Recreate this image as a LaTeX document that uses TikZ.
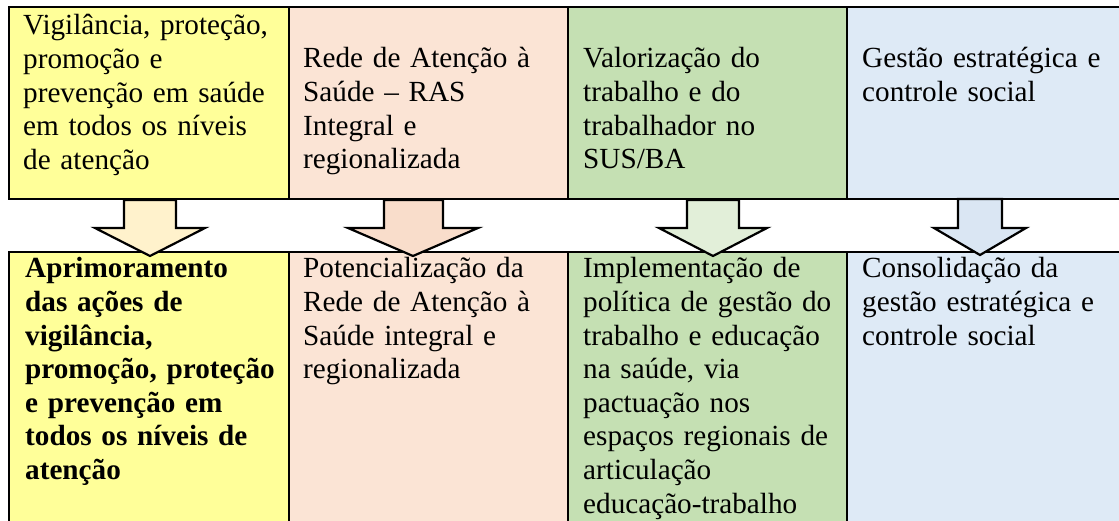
\documentclass[tikz,border=0pt]{standalone}
\usepackage{fontspec}
\setmainfont{Liberation Serif}
\definecolor{cyel}{HTML}{FFFF99}
\definecolor{cpink}{HTML}{FBE4D5}
\definecolor{cgreen}{HTML}{C5E0B3}
\definecolor{cblue}{HTML}{DEEAF6}
\definecolor{ayel}{HTML}{FFF2CC}
\definecolor{apink}{HTML}{F9DDCB}
\definecolor{agreen}{HTML}{E2EFD9}
\definecolor{ablue}{HTML}{DAE6F3}
\begin{document}
\begin{tikzpicture}[x=1pt,y=-1pt,
  cellline/.style={line width=2.4pt},
  celltext/.style={anchor=base west, inner sep=0pt, text width=300pt, align=left,
    font=\fontsize{29.2}{33.6}\selectfont},
  blockarrow/.style={draw=black, line width=2.2pt, line join=miter}]
\useasboundingbox (0,0) rectangle (1119,521);
% top row cells
\fill[cyel]   (9,7)   rectangle (289,199);
\fill[cpink]  (289,7) rectangle (568,199);
\fill[cgreen] (568,7) rectangle (847,199);
\fill[cblue]  (847,7) rectangle (1125,199);
\draw[cellline] (1125,7) -- (9,7) -- (9,199) -- (1125,199);
\draw[cellline] (289,7) -- (289,199) (568,7) -- (568,199) (847,7) -- (847,199);
% bottom row cells
\fill[cyel]   (9,252)   rectangle (289,530);
\fill[cpink]  (289,252) rectangle (568,530);
\fill[cgreen] (568,252) rectangle (847,530);
\fill[cblue]  (847,252) rectangle (1125,530);
\draw[cellline] (1125,252) -- (9,252) -- (9,530);
\draw[cellline] (289,252) -- (289,530) (568,252) -- (568,530) (847,252) -- (847,530);
% top texts
\node[celltext] (t1) at (23,35) {Vigilância, proteção,\\promoção e\\prevenção em saúde\\em todos os níveis\\de atenção};
\node[celltext] (t2) at (303,68) {Rede de Atenção à\\Saúde – RAS\\Integral e\\regionalizada};
\node[celltext] (t3) at (583,68) {Valorização do\\trabalho e do\\trabalhador no\\SUS/BA};
\node[celltext] (t4) at (862,68) {Gestão estratégica e\\controle social};
% bottom texts
\node[celltext, font=\fontsize{29.2}{33.6}\selectfont\bfseries] (b1) at (25,278) {Aprimoramento\\das ações de\\vigilância,\\promoção, proteção\\e prevenção em\\todos os níveis de\\atenção};
\node[celltext] (b2) at (303,278) {Potencialização da\\Rede de Atenção à\\Saúde integral e\\regionalizada};
\node[celltext] (b3) at (583,278) {Implementação de\\política de gestão do\\trabalho e educação\\na saúde, via\\pactuação nos\\espaços regionais de\\articulação\\educação-trabalho};
\node[celltext] (b4) at (862,278) {Consolidação da\\gestão estratégica e\\controle social};
% block arrows
\draw[blockarrow, fill=ayel]   (124,200) -- (176,200) -- (176,228) -- (205,228) -- (150,256) -- (95,228) -- (124,228) -- cycle;
\draw[blockarrow, fill=apink]  (384,200) -- (443,200) -- (443,228) -- (478,228) -- (413,256) -- (348,228) -- (384,228) -- cycle;
\draw[blockarrow, fill=agreen] (687,200) -- (739,200) -- (739,228) -- (767,228) -- (713,256) -- (659,228) -- (687,228) -- cycle;
\draw[blockarrow, fill=ablue]  (958,199) -- (1002,199) -- (1002,228) -- (1026,228) -- (980,255) -- (934,228) -- (958,228) -- cycle;
\end{tikzpicture}
\end{document}
